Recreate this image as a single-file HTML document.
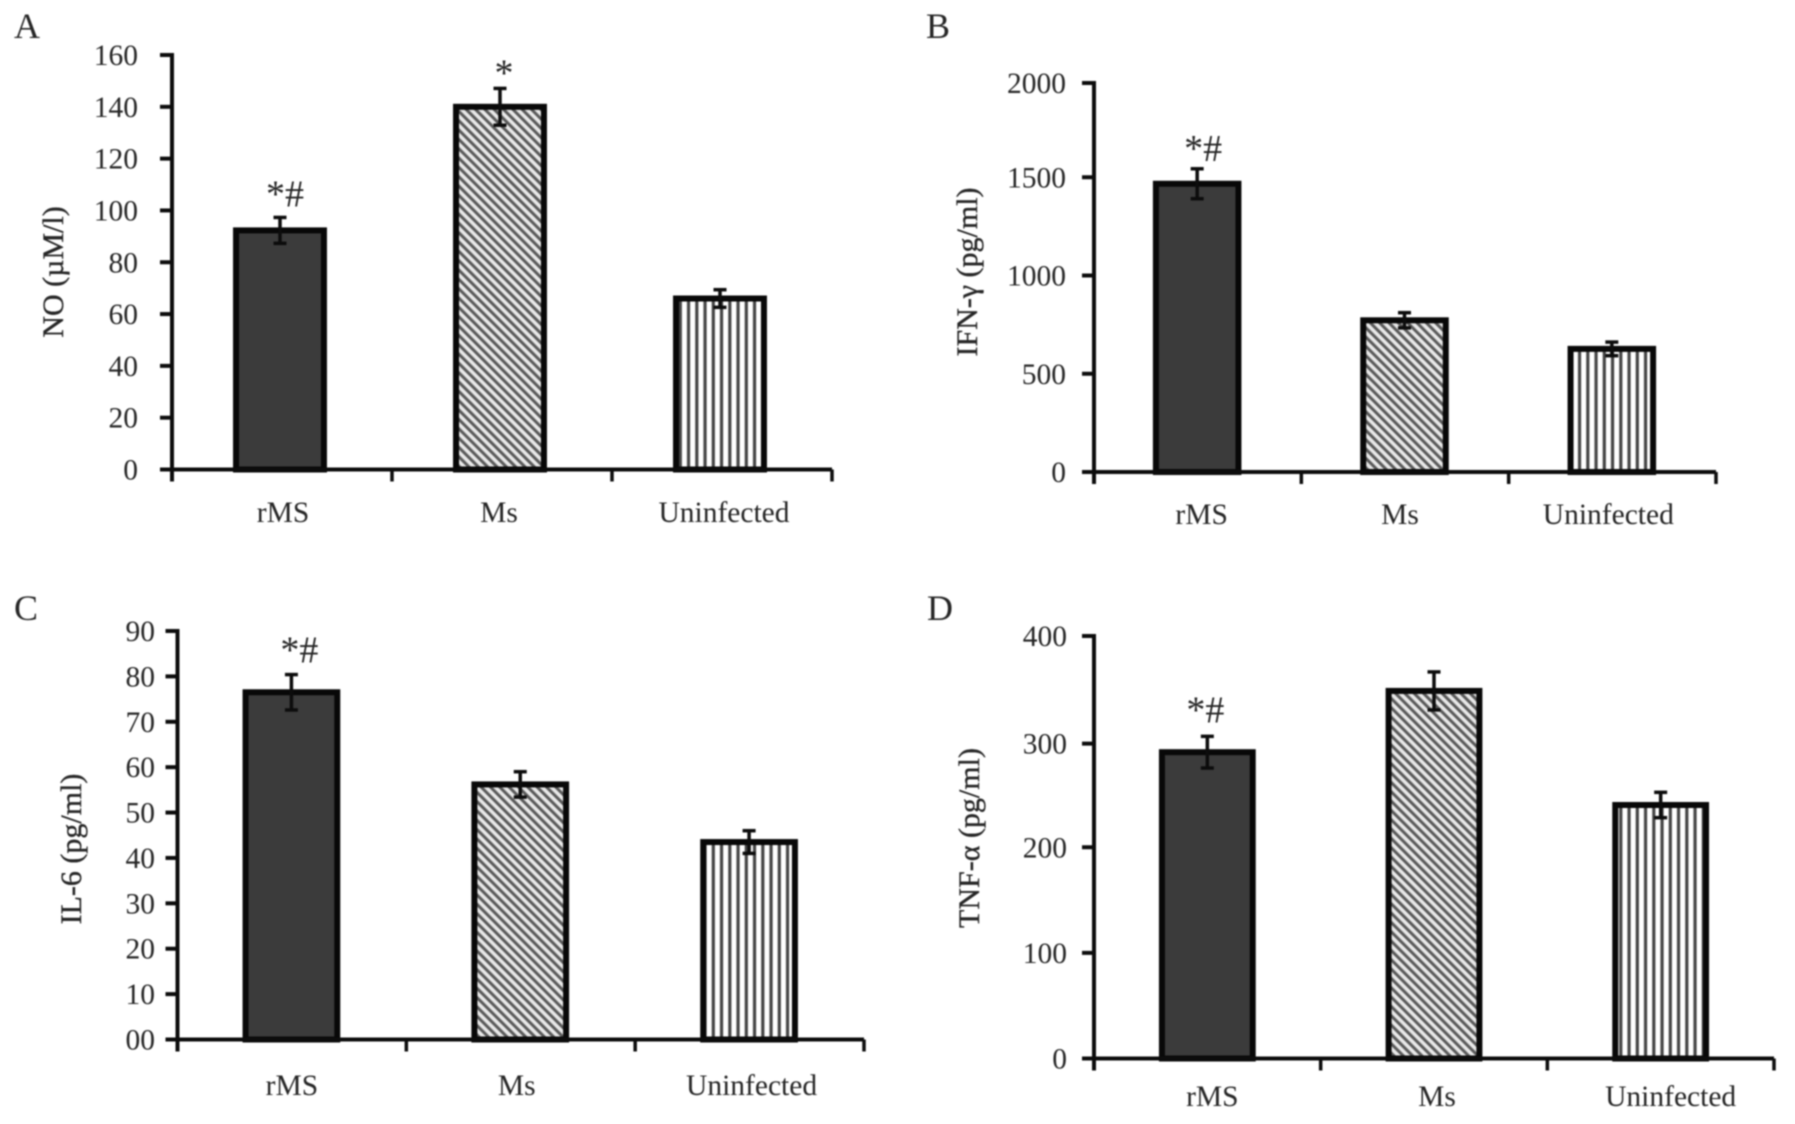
<!DOCTYPE html>
<html lang="en">
<head>
<meta charset="utf-8">
<title>Cytokine bar charts</title>
<style>
html,body{margin:0;padding:0;background:#fff;width:1795px;height:1124px;overflow:hidden}
#figure{display:block;filter:blur(.7px)}
text{font-family:"Liberation Serif",serif;fill:#262626}
</style>
</head>
<body>
<svg id="figure" xmlns="http://www.w3.org/2000/svg" width="1795" height="1124" viewBox="0 0 1795 1124">
  <defs>
    <pattern id="hatch-diagonal" patternUnits="userSpaceOnUse" width="6.6" height="6.6" patternTransform="rotate(-45)">
      <rect width="6.6" height="6.6" fill="#e8e8e8"></rect>
      <rect width="3" height="6.6" fill="#5a5a5a"></rect>
    </pattern>
    <pattern id="hatch-vertical" patternUnits="userSpaceOnUse" width="8.25" height="10">
      <rect width="8.25" height="10" fill="#ffffff"></rect>
      <rect x="2.2" width="3.2" height="10" fill="#444444"></rect>
    </pattern>
  </defs>
  <rect width="1795" height="1124" fill="#fff"></rect>
</svg>
<script>
const categories = ["rMS", "Ms", "Uninfected"];

const noTicks = ["0", "20", "40", "60", "80", "100", "120", "140", "160"];
const noValues = [92.3, 140, 66];
const noErrors = [5, 7.1, 3.4];
const noMarks = ["*#", "*", ""];

const ifnTicks = ["0", "500", "1000", "1500", "2000"];
const ifnValues = [1482, 780, 633];
const ifnErrors = [77, 39, 35];
const ifnMarks = ["*#", "", ""];

const il6Ticks = ["00", "10", "20", "30", "40", "50", "60", "70", "80", "90"];
const il6Values = [76.5, 56.2, 43.5];
const il6Errors = [3.9, 2.8, 2.5];
const il6Marks = ["*#", "", ""];

const tnfTicks = ["0", "100", "200", "300", "400"];
const tnfValues = [290, 348, 240];
const tnfErrors = [15, 18, 12];
const tnfMarks = ["*#", "", ""];

const SVG_NS = "http://www.w3.org/2000/svg";
const figure = document.getElementById("figure");

function make(tag, attrs, parent) {
  const node = document.createElementNS(SVG_NS, tag);
  for (const key in attrs) node.setAttribute(key, attrs[key]);
  parent.appendChild(node);
  return node;
}

const barFills = ["#3b3b3b", "url(#hatch-diagonal)", "url(#hatch-vertical)"];
const barKeys = ["rms", "ms", "uninfected"];

function drawPanel(p) {
  const group = make("g", {}, figure);
  
  

  const maxTick = Number(p.ticks[p.ticks.length - 1]);
  const yScale = function (v) { return p.y0 - (v / maxTick) * (p.y0 - p.yTop); };
  const bandWidth = (p.xEnd - p.x0) / categories.length;
  const xCenter = function (i) { return p.x0 + bandWidth * (i + 0.5) + p.barShift; };
  const barOuter = bandWidth * 0.427;
  const strokeW = 6;

  const letter = make("text", { x: p.letterX, y: p.letterY, "font-size": 36 }, group);
  
  
  letter.textContent = p.letter;

  categories.forEach(function (cat, i) {
    const top = yScale(p.values[i]);
    const bar = make("rect", {
      x: xCenter(i) - barOuter / 2 + strokeW / 2,
      y: top,
      width: barOuter - strokeW,
      height: p.y0 - top,
      fill: barFills[i],
      stroke: "#080808",
      "stroke-width": strokeW
    }, group);
    
    
  });

  const yAxis = make("line", { x1: p.x0, x2: p.x0, y1: p.yTop - 2, y2: p.y0 + 12, stroke: "#0c0c0c", "stroke-width": 4 }, group);
  
  

  const xAxis = make("line", { x1: p.x0, x2: p.xEnd, y1: p.y0, y2: p.y0, stroke: "#0c0c0c", "stroke-width": 4 }, group);
  
  

  p.ticks.forEach(function (label) {
    const ty = yScale(Number(label)) + (p.tickNudge[label] || 0);
    const tick = make("line", { x1: p.x0 - 12, x2: p.x0, y1: ty, y2: ty, stroke: "#0c0c0c", "stroke-width": 4 }, group);
    
    
    const tickText = make("text", { x: p.labelRight, y: ty + 10, "font-size": 29.5, "text-anchor": "end" }, group);
    
    
    tickText.textContent = label;
  });

  for (let i = 0; i <= categories.length; i++) {
    const tx = p.x0 + bandWidth * i;
    const xTick = make("line", { x1: tx, x2: tx, y1: p.y0, y2: p.y0 + 12, stroke: "#0c0c0c", "stroke-width": 3.5 }, group);
    
    
  }

  categories.forEach(function (cat, i) {
    const catText = make("text", {
      x: p.x0 + bandWidth * (i + 0.5) + p.catShift[i],
      y: p.catY,
      "font-size": 29.5,
      "text-anchor": "middle"
    }, group);
    
    
    catText.textContent = cat;

    const errHigh = yScale(p.values[i] + p.errors[i]);
    const errLow = yScale(p.values[i] - p.errors[i]);
    const cx = xCenter(i);
    const stem = make("line", { x1: cx, x2: cx, y1: errHigh, y2: errLow, stroke: "#0c0c0c", "stroke-width": 3.5 }, group);
    
    
    const capTop = make("line", { x1: cx - 6.5, x2: cx + 6.5, y1: errHigh, y2: errHigh, stroke: "#0c0c0c", "stroke-width": 3.5 }, group);
    
    
    const capLow = make("line", { x1: cx - 6.5, x2: cx + 6.5, y1: errLow, y2: errLow, stroke: "#0c0c0c", "stroke-width": 3.5 }, group);
    
    

    if (p.marks[i]) {
      const mark = make("text", {
        x: cx + p.markDx[i],
        y: errHigh + p.markDy[i],
        "font-size": 38,
        "text-anchor": "middle"
      }, group);
      
      
      mark.textContent = p.marks[i];
    }
  });

  const title = make("text", {
    x: 0,
    y: 0,
    "font-size": 30,
    "text-anchor": "middle",
    stroke: "#262626",
    "stroke-width": 0.35,
    transform: "translate(" + p.titleX + "," + p.titleY + ") rotate(-90)"
  }, group);
  
  
  title.textContent = p.title;
}

drawPanel({
  letter: "A", letterX: 14, letterY: 38,
  title: "NO (\u00B5M/l)", titleX: 63, titleY: 272,
  x0: 172, xEnd: 832, y0: 469.5, yTop: 55, labelRight: 138, catY: 522, catShift: [1, -3, 2],
  barShift: -2, tickNudge: {},
  markDx: [5, 4, 0], markDy: [-11, -3, 0],
  ticks: noTicks, values: noValues, errors: noErrors, marks: noMarks
});
drawPanel({
  letter: "B", letterX: 926, letterY: 38,
  title: "IFN-\u03B3 (pg/ml)", titleX: 977, titleY: 272,
  x0: 1094, xEnd: 1716, y0: 472, yTop: 83, labelRight: 1066, catY: 524, catShift: [4, -5, -4],
  barShift: -0.5, tickNudge: { "1500": -3, "1000": -2, "500": -1 },
  markDx: [6, 0, 0], markDy: [-8, 0, 0],
  ticks: ifnTicks, values: ifnValues, errors: ifnErrors, marks: ifnMarks
});
drawPanel({
  letter: "C", letterX: 14, letterY: 620,
  title: "IL-6 (pg/ml)", titleX: 81, titleY: 849,
  x0: 177.5, xEnd: 864, y0: 1039.5, yTop: 631, labelRight: 155, catY: 1095, catShift: [0, -4, 2],
  barShift: -0.5, tickNudge: {},
  markDx: [8, 0, 0], markDy: [-12, 0, 0],
  ticks: il6Ticks, values: il6Values, errors: il6Errors, marks: il6Marks
});
drawPanel({
  letter: "D", letterX: 927, letterY: 620,
  title: "TNF-\u03B1 (pg/ml)", titleX: 979, titleY: 838,
  x0: 1094, xEnd: 1774, y0: 1058.5, yTop: 636, labelRight: 1067, catY: 1106, catShift: [5, 3, 10],
  barShift: 0, tickNudge: { "300": 2 },
  markDx: [-2, 0, 0], markDy: [-14, 0, 0],
  ticks: tnfTicks, values: tnfValues, errors: tnfErrors, marks: tnfMarks
});
</script>
</body>
</html>
